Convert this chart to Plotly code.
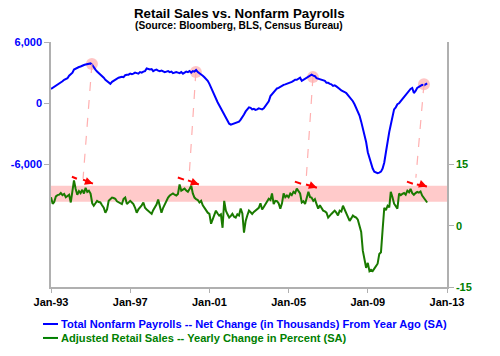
import pandas as pd
import plotly.graph_objects as go

# ---------------- data ----------------
start_month = "1993-01-01"

payrolls_yoy = [  # thousands, Jan-1993 .. Jan-2012
    1400, 1500, 1600, 1700, 1800, 1950, 2050, 2150, 2300, 2400, 2450, 2700,
    2900, 3000, 3300, 3400, 3450, 3550, 3600, 3700, 3750, 3800, 3850, 3850,
    3900, 3750, 3500, 3300, 3100, 2950, 2800, 2700, 2500, 2300, 2150, 2000,
    1900, 2100, 2200, 2300, 2450, 2500, 2550, 2600, 2550, 2750, 2800, 2800,
    2900, 2850, 2900, 3000, 2950, 2900, 3050, 3000, 3100, 3150, 3400, 3350,
    3300, 3350, 3150, 3250, 3300, 3200, 3150, 3200, 3100, 3050, 3100, 3150,
    3050, 3100, 2950, 3000, 3050, 3000, 2950, 3050, 2900, 3000, 3100, 3050,
    3150, 3000, 3150, 3100, 3250, 3050, 2950, 2800, 2700, 2550, 2400, 2200,
    1900, 1500, 1200, 800, 400, 100, -200, -500, -800, -1200, -1500, -1800,
    -2000, -2100, -2050, -2000, -1900, -1900, -1800, -1600, -1400, -1100, -800, -600,
    -400, -450, -600, -550, -650, -600, -500, -550, -600, -500, -300, 0,
    200, 700, 900, 1100, 1300, 1450, 1500, 1600, 1750, 1800, 1850, 1900,
    2000, 2000, 2100, 2200, 2300, 2300, 2400, 2500, 2200, 2300, 2350, 2500,
    2600, 2650, 2800, 2700, 2650, 2450, 2400, 2350, 2300, 2250, 2200, 2000,
    2000, 1900, 1850, 1700, 1750, 1650, 1550, 1400, 1250, 1200, 1100, 1000,
    800, 600, 450, 200, -100, -500, -800, -1200, -1800, -2400, -3100, -3800,
    -4800, -5400, -6000, -6400, -6700, -6800, -6850, -6800, -6700, -6400, -5800, -4800,
    -3600, -2800, -2100, -1400, -600, -400, -100, 0, 200, 500, 700, 900,
    1000, 1200, 1400, 1500, 1000, 1200, 1500, 1600, 1700, 1800, 1750, 1850,
    1950,
]

retail_yoy = [  # percent, Jan-1993 .. Jan-2012
    7.0, 5.4, 5.8, 7.2, 7.5, 7.6, 8.0, 7.5, 7.8, 7.0, 7.3, 7.6,
    5.7, 8.0, 11.1, 9.0, 7.6, 8.5, 8.0, 8.8, 7.9, 9.3, 8.3, 8.6,
    7.9, 5.5, 4.9, 5.5, 6.1, 5.8, 5.7, 5.0, 4.4, 3.2, 4.0, 6.1,
    6.4, 6.9, 6.8, 6.6, 6.0, 5.7, 5.5, 5.3, 6.6, 6.9, 5.3, 5.8,
    6.1, 5.7, 5.3, 4.4, 3.2, 4.0, 4.4, 5.0, 5.7, 4.4, 4.0, 3.6,
    3.4, 2.9, 3.8, 4.4, 5.2, 6.4, 4.5, 3.2, 4.4, 5.3, 6.0, 6.9,
    7.4, 7.6, 7.9, 7.6, 7.4, 7.8, 10.1, 8.6, 8.8, 9.1, 8.6, 8.3,
    9.0, 9.8, 7.9, 6.9, 6.5, 6.3, 5.7, 6.1, 5.0, 4.4, 3.7, 3.2,
    2.9, 0.5, 1.5, 2.5, 3.7, 3.0, 2.5, 2.8, -0.5, 6.1, 3.7, 2.8,
    2.0, 2.4, 2.9, 2.2, 2.0, 2.8, 2.5, 4.2, 3.0, -1.7, 1.2, 2.5,
    3.7, 3.3, 2.9, 3.4, 3.7, 4.0, 4.4, 5.5, 4.0, 4.6, 5.3, 5.8,
    6.6, 6.3, 7.9, 5.3, 6.1, 6.0, 5.5, 4.2, 5.5, 7.9, 7.0, 7.4,
    7.0, 7.9, 7.5, 8.3, 8.0, 9.1, 8.6, 7.9, 5.7, 6.0, 5.3, 6.5,
    8.3, 7.0, 6.9, 6.1, 6.5, 5.3, 4.2, 5.0, 4.4, 3.7, 3.5, 3.2,
    2.0, 2.6, 2.9, 3.3, 3.7, 3.2, 2.5, 3.7, 3.5, 4.9, 4.0, 2.9,
    2.2, 1.2, 1.8, 2.5, 2.2, 2.0, 1.5, 0.0, -1.5, -6.1, -8.5, -10.3,
    -9.1, -11.1, -10.8, -11.1, -10.5, -10.0, -9.3, -6.9, -6.5, -1.0, 4.4, 3.8,
    4.9, 4.5, 8.3, 7.0, 5.4, 4.8, 4.2, 7.9, 7.5, 7.8, 8.0, 7.6,
    8.6, 8.2, 9.0, 8.0, 7.6, 8.0, 8.3, 8.1, 8.4, 7.4, 6.8, 6.1,
    5.7,
]

payroll_name = "Total Nonfarm Payrolls -- Net Change (in Thousands) From Year Ago (SA)"
retail_name = "Adjusted Retail Sales -- Yearly Change in Percent (SA)"
title_text = "Retail Sales vs. Nonfarm Payrolls"
subtitle_text = "(Source: Bloomberg, BLS, Census Bureau)"

left_ticks = [-6000, 0, 6000]
left_labels = ["-6,000", "0", "6,000"]
right_ticks = [-15, 0, 15]
right_labels = ["-15", "0", "15"]

# highlighted band on the retail axis (percent)
band_low, band_high = 5.9, 9.8

# payroll peaks highlighted (decimal year, thousands)
peak_years = [1995.07, 2000.32, 2006.23, 2011.84]
peak_values = [3840, 3050, 2560, 1870]
# lower ends of the pink dashed connectors (decimal year, thousands on left axis)
link_years = [1994.62, 1999.97, 2005.88, 2011.43]
link_values = [-7400, -7400, -7700, -7300]
# red trend arrows on the retail axis: short dash (d0->d1) then arrow (a0->a1)
arrow_d0 = [(1994.06, 12.0), (1999.41, 11.8), (2005.32, 10.8), (2010.98, 10.8)]
arrow_d1 = [(1994.31, 11.5), (1999.72, 11.3), (2005.63, 10.3), (2011.28, 10.3)]
arrow_a0 = [(1994.62, 11.3), (1999.92, 11.1), (2005.88, 10.1), (2011.48, 10.1)]
arrow_a1 = [(1995.12, 10.3), (2000.47, 10.1), (2006.43, 9.3), (2011.99, 9.6)]


def dy(y):
    yr = int(y)
    return (pd.Timestamp(yr, 1, 1) + pd.Timedelta(days=(y - yr) * 365.25)).strftime("%Y-%m-%d")


months_p = pd.date_range(start_month, periods=len(payrolls_yoy), freq="MS")
months_r = pd.date_range(start_month, periods=len(retail_yoy), freq="MS")

FONT = "Arial, Liberation Sans, sans-serif"
BLUE = "#0000FF"
GREEN = "#1A7A00"
GREEN_TXT = "#008000"
AXIS = "#B0B0B0"

fig = go.Figure()

fig.add_trace(go.Scatter(
    x=[dy(v) for v in peak_years], y=peak_values, mode="markers",
    marker=dict(size=12, color="rgba(255,150,150,0.55)", line=dict(width=0)),
    hoverinfo="skip", showlegend=False, yaxis="y"))

fig.add_trace(go.Scatter(x=months_p, y=payrolls_yoy, mode="lines", name=payroll_name,
                         line=dict(color=BLUE, width=2), yaxis="y", showlegend=False))
fig.add_trace(go.Scatter(x=months_r, y=retail_yoy, mode="lines", name=retail_name,
                         line=dict(color=GREEN, width=2), yaxis="y2", showlegend=False))

shapes = []
shapes.append(dict(type="rect", xref="paper", x0=0, x1=1, yref="y2", y0=band_low, y1=band_high,
                   fillcolor="rgba(255,150,150,0.5)", line=dict(width=0), layer="below"))
for px_, pv, lx, lv in zip(peak_years, peak_values, link_years, link_values):
    shapes.append(dict(type="line", xref="x", yref="y", x0=dy(px_), y0=pv, x1=dy(lx), y1=lv,
                       line=dict(color="#FFB0B0", width=1.2, dash="dash")))
annotations = []
for d0, d1, a0, a1 in zip(arrow_d0, arrow_d1, arrow_a0, arrow_a1):
    shapes.append(dict(type="line", xref="x", yref="y2", x0=dy(d0[0]), y0=d0[1], x1=dy(d1[0]), y1=d1[1],
                       line=dict(color="#FF0000", width=2)))
    shapes.append(dict(type="line", xref="x", yref="y2", x0=dy(a0[0]), y0=a0[1], x1=dy(a1[0]), y1=a1[1],
                       line=dict(color="#FF0000", width=2)))
    annotations.append(dict(x=dy(a1[0]), y=a1[1], xref="x", yref="y2", text="", showarrow=True,
                            ax=-8, ay=-3, arrowhead=2, arrowsize=0.8, arrowwidth=2,
                            arrowcolor="#FF0000", standoff=0))

# legend drawn manually to mimic the compact original
legend_rows = [(payroll_name, BLUE, -0.151), (retail_name, GREEN_TXT, -0.208)]
for name, col, yy in legend_rows:
    shapes.append(dict(type="line", xref="paper", yref="paper", x0=-0.0202, x1=0.0177, y0=yy, y1=yy,
                       line=dict(color=col, width=2)))
    annotations.append(dict(x=0.0202, y=yy, xref="paper", yref="paper", text=name, showarrow=False,
                            xanchor="left", yanchor="middle",
                            font=dict(family=FONT, size=11.1, color=col, weight="bold")))

annotations.append(dict(x=0.475, y=1.118, xref="paper", yref="paper", text=title_text, showarrow=False,
                        xanchor="center", yanchor="middle",
                        font=dict(family=FONT, size=13.3, color="#000000", weight="bold")))
annotations.append(dict(x=0.475, y=1.069, xref="paper", yref="paper", text=subtitle_text, showarrow=False,
                        xanchor="center", yanchor="middle",
                        font=dict(family=FONT, size=10.2, color="#000000", weight="bold")))

fig.update_layout(
    width=500, height=356,
    margin=dict(l=51, r=53, t=42, b=69),
    paper_bgcolor="white", plot_bgcolor="white",
    showlegend=False,
    shapes=shapes, annotations=annotations,
    xaxis=dict(type="date", range=["1993-01-01", "2013-01-01"], tick0="1993-01-01", dtick="M48",
               tickformat="%b-%y", showgrid=False, zeroline=False, showline=True, linecolor=AXIS,
               linewidth=1.5, ticks="outside", ticklen=4, tickcolor=AXIS,
               tickfont=dict(family=FONT, size=11, color="#000000", weight="bold")),
    yaxis=dict(range=[-18000, 6000], tickvals=left_ticks, ticktext=left_labels, showgrid=False,
               zeroline=False, showline=True, linecolor=AXIS, linewidth=1.5, ticks="outside",
               ticklen=5, tickcolor=AXIS,
               tickfont=dict(family=FONT, size=11, color=BLUE, weight="bold")),
    yaxis2=dict(range=[-15, 45], tickvals=right_ticks, ticktext=right_labels, overlaying="y",
                side="right", showgrid=False, zeroline=False, showline=True, linecolor=AXIS,
                linewidth=1.5, ticks="outside", ticklen=5, tickcolor=AXIS,
                tickfont=dict(family=FONT, size=11, color=GREEN_TXT, weight="bold")),
)

fig.write_html("out.html", config={"displayModeBar": False},
               post_script="document.body.style.margin='0';")
